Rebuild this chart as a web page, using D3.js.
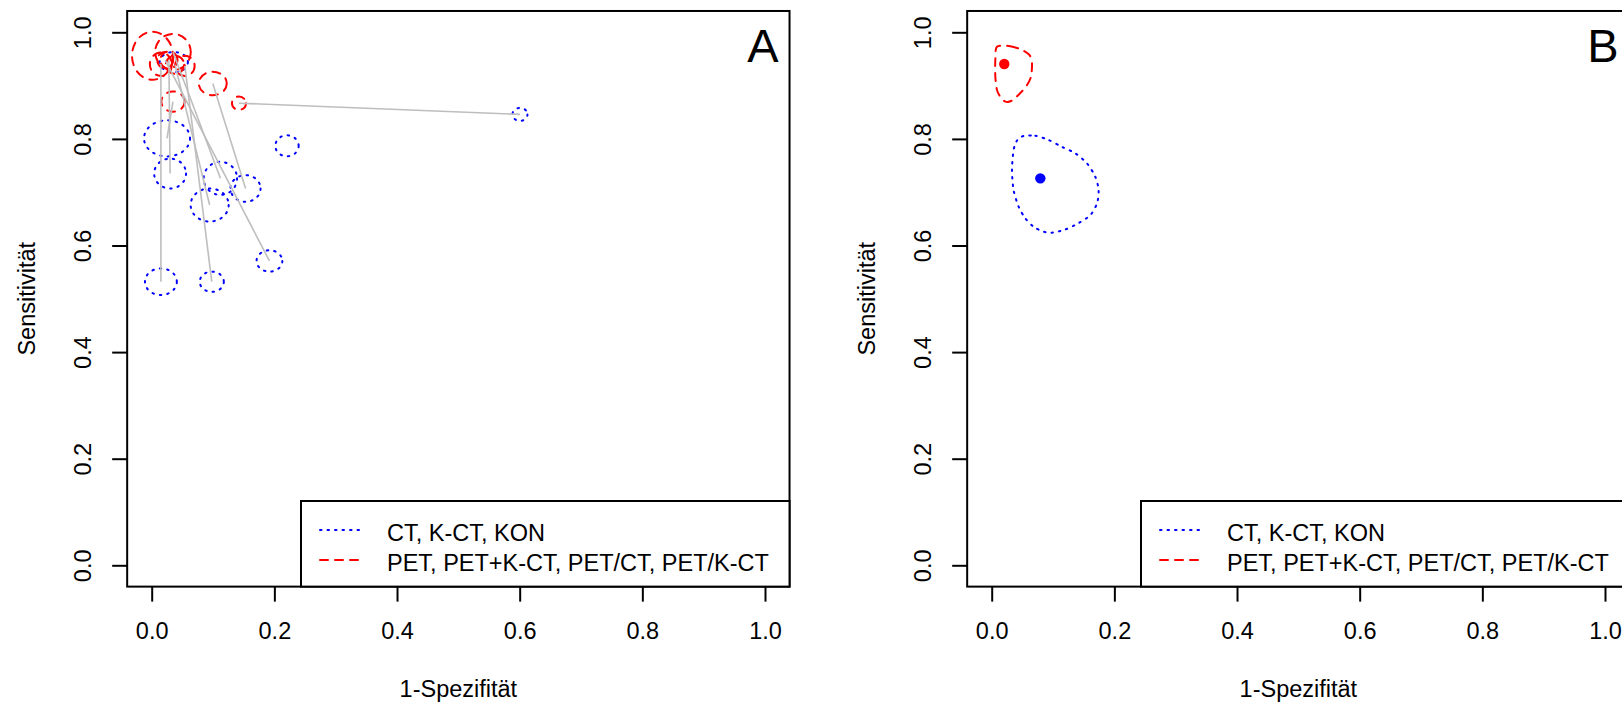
<!DOCTYPE html>
<html>
<head>
<meta charset="utf-8">
<script src="https://cdn.jsdelivr.net/npm/d3@7"></script>
<style>
  html, body { margin: 0; padding: 0; background: #fff; overflow: hidden; }
  svg { display: block; font-family: "Liberation Sans", Arial, sans-serif; }
</style>
</head>
<body>
<svg id="chart" width="1622" height="703"></svg>
<script>
// ---------- DATA ----------
const tickValues = [0.0, 0.2, 0.4, 0.6, 0.8, 1.0];
const tickLabels = ["0.0", "0.2", "0.4", "0.6", "0.8", "1.0"];
const xTitle = "1-Spezifität";
const yTitle = "Sensitivität";
const panelLabels = ["A", "B"];
const legendLabels = ["CT, K-CT, KON", "PET, PET+K-CT, PET/CT, PET/K-CT"];

// Panel A: single studies, CT group (blue) - centre and half-widths of confidence ellipse
const ctFpr      = [0.025, 0.030, 0.112, 0.153, 0.0945, 0.2206, 0.192, 0.015, 0.098, 0.6005, 0.036];
const ctSens     = [0.801, 0.735, 0.726, 0.707, 0.676, 0.787, 0.571, 0.532, 0.532, 0.846, 0.944];
const ctHalfFpr  = [0.0375, 0.026, 0.0272, 0.0245, 0.031, 0.019, 0.021, 0.026, 0.0196, 0.0122, 0.023];
const ctHalfSens = [0.0338, 0.028, 0.031, 0.025, 0.031, 0.0197, 0.020, 0.025, 0.019, 0.0122, 0.019];

// Panel A: single studies, PET group (red)
const petFpr      = [0.0013, 0.0347, 0.015, 0.054, 0.0347, 0.0996, 0.1423, 0.038, 0.028, 0.022];
const petSens     = [0.956, 0.963, 0.940, 0.937, 0.870, 0.904, 0.867, 0.939, 0.948, 0.948];
const petHalfFpr  = [0.0334, 0.029, 0.018, 0.016, 0.019, 0.0228, 0.0114, 0.015, 0.014, 0.013];
const petHalfSens = [0.045, 0.034, 0.022, 0.019, 0.019, 0.022, 0.0126, 0.017, 0.016, 0.015];

// Paired comparisons (index into CT arrays, index into PET arrays)
const pairCt  = [0, 1, 2, 3, 4, 6, 7, 8, 9];
const pairPet = [4, 8, 1, 5, 7, 9, 2, 3, 6];

// Panel B: pooled estimates and confidence regions
const ctPooled  = [0.0793, 0.726];
const petPooled = [0.0205, 0.9405];
const ctRegionFpr  = [0.0520, 0.0711, 0.0928, 0.1146, 0.1363, 0.1554, 0.1689, 0.1743, 0.1717, 0.1608, 0.1417, 0.1200, 0.0983, 0.0846, 0.0683, 0.0548, 0.0439, 0.0357, 0.0331, 0.0357, 0.0413];
const ctRegionSens = [0.8055, 0.806, 0.798, 0.785, 0.773, 0.754, 0.729, 0.704, 0.679, 0.657, 0.642, 0.630, 0.624, 0.626, 0.635, 0.651, 0.673, 0.704, 0.742, 0.779, 0.797];
const petRegionFpr  = [0.0086, 0.0303, 0.0494, 0.0618, 0.0657, 0.0641, 0.0576, 0.0466, 0.0331, 0.0222, 0.0140, 0.0086, 0.0059, 0.0059];
const petRegionSens = [0.973, 0.974, 0.967, 0.957, 0.942, 0.917, 0.901, 0.886, 0.872, 0.870, 0.879, 0.892, 0.917, 0.948];

// ---------- LAYOUT ----------
const svg = d3.select("#chart");
const FONT = 23.5;
const BLUE = "#0000FF", RED = "#FF0000", GRAY = "#BEBEBE";
const panelOffset = 840;

function drawPanel(idx) {
  const off = idx * panelOffset;
  const x = d3.scaleLinear().domain([0, 1]).range([151.7 + off, 765 + off]);
  const y = d3.scaleLinear().domain([0, 1]).range([565.3, 32.3]);
  const x0 = x(-0.04), x1 = x(1.04), y0 = y(-0.04), y1 = y(1.04);
  const g = svg.append("g");

  const clipId = "clip" + idx;
  svg.append("defs").append("clipPath").attr("id", clipId)
    .append("rect").attr("x", x0).attr("y", y1).attr("width", x1 - x0).attr("height", y0 - y1);
  const plot = g.append("g").attr("clip-path", `url(#${clipId})`);

  const blueStyle = s => s.attr("fill", "none").attr("stroke", BLUE).attr("stroke-width", 2)
      .attr("stroke-dasharray", "1.5,6").attr("stroke-linecap", "round");
  const redStyle = s => s.attr("fill", "none").attr("stroke", RED).attr("stroke-width", 2)
      .attr("stroke-dasharray", "8,7").attr("stroke-linecap", "round");

  if (idx === 0) {
    const ct = ctFpr.map((v, i) => ({fpr: v, sens: ctSens[i], hf: ctHalfFpr[i], hs: ctHalfSens[i]}));
    const pet = petFpr.map((v, i) => ({fpr: v, sens: petSens[i], hf: petHalfFpr[i], hs: petHalfSens[i]}));
    plot.selectAll("ellipse.ct").data(ct).join("ellipse").attr("class", "ct")
      .attr("cx", d => x(d.fpr)).attr("cy", d => y(d.sens))
      .attr("rx", d => x(d.hf) - x(0)).attr("ry", d => y(0) - y(d.hs))
      .call(blueStyle);
    plot.selectAll("ellipse.pet").data(pet).join("ellipse").attr("class", "pet")
      .attr("cx", d => x(d.fpr)).attr("cy", d => y(d.sens))
      .attr("rx", d => x(d.hf) - x(0)).attr("ry", d => y(0) - y(d.hs))
      .call(redStyle);
    const pairs = pairCt.map((c, i) => ({c: ct[c], p: pet[pairPet[i]]}));
    plot.selectAll("line.pair").data(pairs).join("line").attr("class", "pair")
      .attr("x1", d => x(d.p.fpr)).attr("y1", d => y(d.p.sens))
      .attr("x2", d => x(d.c.fpr)).attr("y2", d => y(d.c.sens))
      .attr("stroke", GRAY).attr("stroke-width", 1.6);
  } else {
    const line = d3.line().x(d => x(d[0])).y(d => y(d[1])).curve(d3.curveCardinalClosed.tension(0.2));
    const ctReg = ctRegionFpr.map((v, i) => [v, ctRegionSens[i]]);
    const petReg = petRegionFpr.map((v, i) => [v, petRegionSens[i]]);
    plot.append("path").attr("d", line(ctReg)).call(blueStyle);
    plot.append("path").attr("d", line(petReg)).call(redStyle);
    plot.append("circle").attr("cx", x(ctPooled[0])).attr("cy", y(ctPooled[1])).attr("r", 5.2).attr("fill", BLUE);
    plot.append("circle").attr("cx", x(petPooled[0])).attr("cy", y(petPooled[1])).attr("r", 5.2).attr("fill", RED);
  }

  // box
  g.append("rect").attr("x", x0).attr("y", y1).attr("width", x1 - x0).attr("height", y0 - y1)
    .attr("fill", "none").attr("stroke", "#000").attr("stroke-width", 2);

  // x axis
  const xa = g.append("g").attr("transform", `translate(0,${y0})`)
    .call(d3.axisBottom(x).tickValues(tickValues).tickFormat((d, i) => tickLabels[i]).tickSize(15).tickPadding(0));
  xa.select(".domain").remove();
  xa.selectAll(".tick line").attr("stroke", "#000").attr("stroke-width", 2);
  xa.selectAll(".tick text").attr("y", 639.5 - y0).attr("dy", null)
    .attr("font-size", FONT).attr("font-family", "Liberation Sans, Arial, sans-serif").attr("fill", "#000");

  // y axis
  const ya = g.append("g").attr("transform", `translate(${x0},0)`)
    .call(d3.axisLeft(y).tickValues(tickValues).tickFormat((d, i) => tickLabels[i]).tickSize(15).tickPadding(0));
  ya.select(".domain").remove();
  ya.selectAll(".tick line").attr("stroke", "#000").attr("stroke-width", 2);
  ya.selectAll(".tick text").attr("x", null).attr("dy", null)
    .attr("transform", `translate(${90.5 + off - x0},0) rotate(-90)`)
    .attr("text-anchor", "middle")
    .attr("font-size", FONT).attr("font-family", "Liberation Sans, Arial, sans-serif").attr("fill", "#000");

  // titles
  g.append("text").attr("x", (x0 + x1) / 2).attr("y", 697).attr("text-anchor", "middle")
    .attr("font-size", FONT).text(xTitle);
  g.append("text").attr("transform", `translate(${34.5 + off},${(y0 + y1) / 2}) rotate(-90)`)
    .attr("text-anchor", "middle").attr("font-size", FONT).text(yTitle);

  // panel label
  g.append("text").attr("x", 778.5 + off).attr("y", 62.3).attr("text-anchor", "end")
    .attr("font-size", 47).text(panelLabels[idx]);

  // legend (bottom right)
  const lx = 301 + off, ly = 501;
  g.append("rect").attr("x", lx).attr("y", ly).attr("width", x1 - lx).attr("height", y0 - ly)
    .attr("fill", "#fff").attr("stroke", "#000").attr("stroke-width", 2);
  const rows = [{label: legendLabels[0], style: blueStyle, cy: 530},
                {label: legendLabels[1], style: redStyle, cy: 560}];
  rows.forEach(r => {
    g.append("line").attr("x1", 320 + off).attr("x2", 365 + off).attr("y1", r.cy).attr("y2", r.cy).call(r.style);
    g.append("text").attr("x", 387 + off).attr("y", r.cy + 10.5).attr("font-size", FONT).text(r.label);
  });
}

drawPanel(0);
drawPanel(1);
</script>
</body>
</html>
